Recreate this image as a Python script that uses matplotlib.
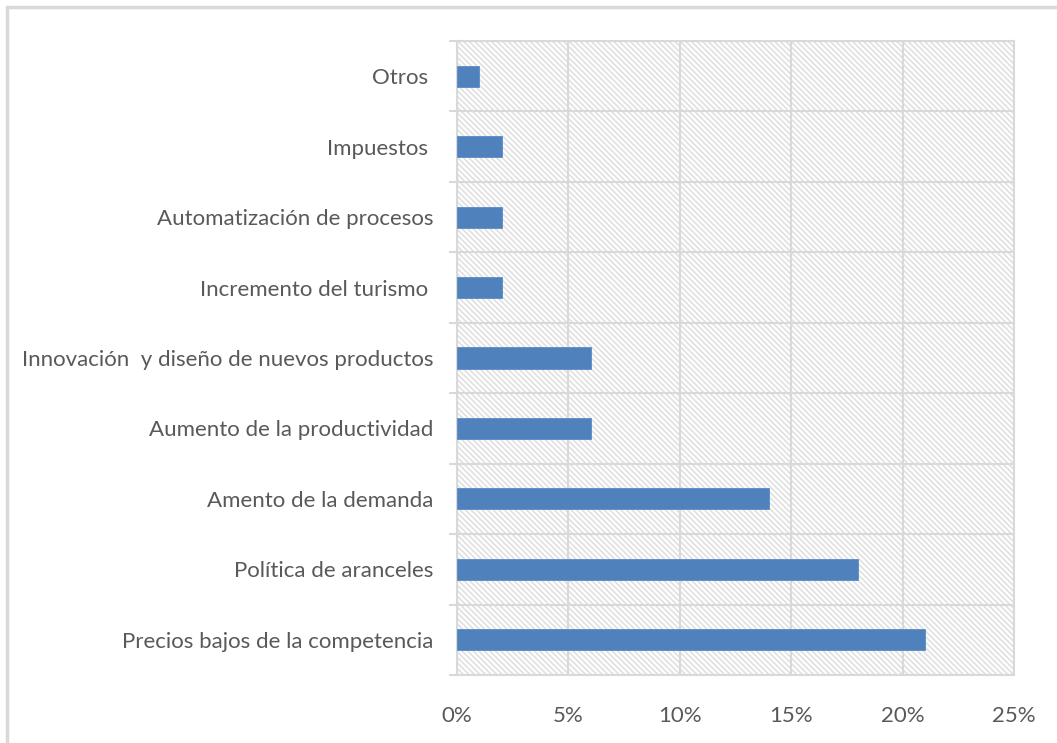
import matplotlib
matplotlib.use("Agg")
import matplotlib.pyplot as plt
from matplotlib.patches import Rectangle
from matplotlib.ticker import FixedLocator, PercentFormatter

categories = [
    "Precios bajos de la competencia",
    "Política de aranceles",
    "Amento de la demanda",
    "Aumento de la productividad",
    "Innovación  y diseño de nuevos productos",
    "Incremento del turismo ",
    "Automatización de procesos",
    "Impuestos ",
    "Otros ",
]
values = [21, 18, 14, 6, 6, 2, 2, 2, 1]
x_ticks = [0, 5, 10, 15, 20, 25]

plt.rcParams["font.family"] = ["Lato", "DejaVu Sans"]
plt.rcParams["hatch.linewidth"] = 1.2

grid_color = "#d9d9d9"
text_color = "#595959"
bar_color = "#4f81bd"

fig = plt.figure(figsize=(10.57, 7.43), dpi=100)
ax = fig.add_axes([0.4324, 0.0915, 0.9593 - 0.4324, 0.9448 - 0.0915])

# chart frame
fig.patches.append(Rectangle((7 / 1057, -0.1), 1.2, 1 - 7 / 743 + 0.1,
                             transform=fig.transFigure, fill=False,
                             edgecolor=grid_color, linewidth=2.5))

# hatched plot area
ax.add_patch(Rectangle((0, 0), 1, 1, transform=ax.transAxes,
                       facecolor="white", edgecolor="#e0e0e0", linewidth=0,
                       hatch="\\" * 6, zorder=0))

pos = list(range(len(categories)))
ax.barh(pos, values, height=0.3, color=bar_color, edgecolor="#5b8bc6",
        linewidth=0.6, zorder=3)

ax.set_xlim(0, 25)
ax.set_ylim(-0.5, len(categories) - 0.5)
ax.xaxis.set_major_locator(FixedLocator(x_ticks))
ax.xaxis.set_major_formatter(PercentFormatter(decimals=0))
ax.set_yticks(pos)
ax.set_yticklabels(categories)
ax.yaxis.set_minor_locator(FixedLocator([p - 0.5 for p in range(len(categories) + 1)]))

ax.grid(True, axis="x", which="major", color=grid_color, linewidth=1.5, zorder=1)
ax.grid(True, axis="y", which="minor", color=grid_color, linewidth=1.5, zorder=1)
ax.set_axisbelow(True)

for s in ax.spines.values():
    s.set_visible(False)
for side in ("left", "right", "top", "bottom"):
    ax.spines[side].set_visible(True)
    ax.spines[side].set_color(grid_color)
    ax.spines[side].set_linewidth(1.5)

ax.tick_params(axis="x", which="major", length=0, pad=22, labelsize=16,
               labelcolor=text_color)
ax.tick_params(axis="y", which="major", length=0, pad=17, labelsize=16,
               labelcolor=text_color)
ax.tick_params(axis="y", which="minor", length=6, width=1.5, color=grid_color)

fig.savefig("out.png", dpi=100, facecolor="white")
